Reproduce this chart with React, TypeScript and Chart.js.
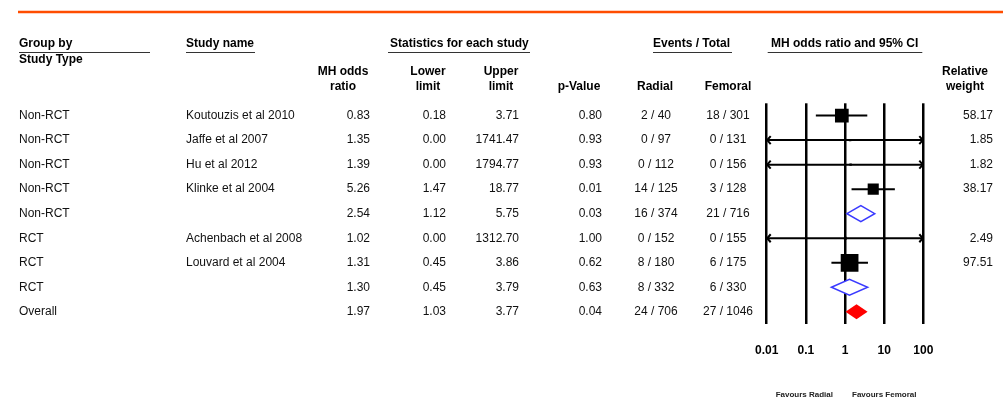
import { useEffect, useRef } from "react";
import { Chart, registerables } from "chart.js";

Chart.register(...registerables);

// ---------------- data ----------------
const groups = ["Non-RCT", "Non-RCT", "Non-RCT", "Non-RCT", "Non-RCT", "RCT", "RCT", "RCT", "Overall"];
const studies = ["Koutouzis et al 2010", "Jaffe et al 2007", "Hu et al 2012", "Klinke et al 2004", "", "Achenbach et al 2008", "Louvard et al 2004", "", ""];
const rowKind = ["study", "study", "study", "study", "subtotal", "study", "study", "subtotal", "overall"];
const oddsRatio = [0.83, 1.35, 1.39, 5.26, 2.54, 1.02, 1.31, 1.3, 1.97];
const lowerLimit = [0.18, 0.0, 0.0, 1.47, 1.12, 0.0, 0.45, 0.45, 1.03];
const upperLimit = [3.71, 1741.47, 1794.77, 18.77, 5.75, 1312.7, 3.86, 3.79, 3.77];
const pValues = [0.8, 0.93, 0.93, 0.01, 0.03, 1.0, 0.62, 0.63, 0.04];
const radialEvents = ["2 / 40", "0 / 97", "0 / 112", "14 / 125", "16 / 374", "0 / 152", "8 / 180", "8 / 332", "24 / 706"];
const femoralEvents = ["18 / 301", "0 / 131", "0 / 156", "3 / 128", "21 / 716", "0 / 155", "6 / 175", "6 / 330", "27 / 1046"];
const relativeWeight: (number | null)[] = [58.17, 1.85, 1.82, 38.17, null, 2.49, 97.51, null, null];
const axisTicks = [0.01, 0.1, 1, 10, 100];
const favoursLeft = "Favours Radial";
const favoursRight = "Favours Femoral";

// ---------------- styling ----------------
const FONT = "'Liberation Sans', Arial, sans-serif";
const TEXT = "#111";

const forestPlugin = {
  id: "forest",
  beforeDatasetsDraw(chart: any) {
    const { ctx, scales } = chart;
    const x = scales.x;
    const y = scales.y;
    ctx.save();
    ctx.strokeStyle = "#000";
    ctx.lineWidth = 2;
    rowKind.forEach((k, i) => {
      if (k !== "study") return;
      const py = y.getPixelForValue(i + 1);
      const lo = Math.max(lowerLimit[i], x.min);
      const hi = Math.min(upperLimit[i], x.max);
      const x1 = x.getPixelForValue(lo);
      const x2 = x.getPixelForValue(hi);
      ctx.beginPath();
      ctx.moveTo(x1, py);
      ctx.lineTo(x2, py);
      ctx.stroke();
      if (lowerLimit[i] < x.min) {
        ctx.beginPath();
        ctx.moveTo(x1 + 4, py - 4);
        ctx.lineTo(x1 + 0.5, py);
        ctx.lineTo(x1 + 4, py + 4);
        ctx.stroke();
      }
      if (upperLimit[i] > x.max) {
        ctx.beginPath();
        ctx.moveTo(x2 - 4, py - 4);
        ctx.lineTo(x2 - 0.5, py);
        ctx.lineTo(x2 - 4, py + 4);
        ctx.stroke();
      }
    });
    ctx.restore();
  },
  afterDatasetsDraw(chart: any) {
    const { ctx, scales } = chart;
    const x = scales.x;
    const y = scales.y;
    ctx.save();
    rowKind.forEach((k, i) => {
      if (k === "study") return;
      const py = y.getPixelForValue(i + 1);
      const xl = x.getPixelForValue(lowerLimit[i]);
      const xc = x.getPixelForValue(oddsRatio[i]);
      const xr = x.getPixelForValue(upperLimit[i]);
      const h = k === "overall" ? 7.5 : 8;
      ctx.beginPath();
      ctx.moveTo(xl, py);
      ctx.lineTo(xc, py - h);
      ctx.lineTo(xr, py);
      ctx.lineTo(xc, py + h);
      ctx.closePath();
      if (k === "overall") {
        ctx.fillStyle = "#ff0000";
        ctx.fill();
      } else {
        ctx.fillStyle = "#ffffff";
        ctx.fill();
        ctx.strokeStyle = "#3a3aff";
        ctx.lineWidth = 1.5;
        ctx.stroke();
      }
    });
    ctx.restore();
  },
  afterDraw(chart: any) {
    const { ctx, scales, chartArea } = chart;
    const x = scales.x;
    const y = scales.y;
    ctx.save();

    // orange top rule
    ctx.strokeStyle = "#ff4d00";
    ctx.lineWidth = 2.5;
    ctx.beginPath();
    ctx.moveTo(18, 12);
    ctx.lineTo(1003, 12);
    ctx.stroke();

    // headers
    ctx.fillStyle = "#000";
    ctx.textBaseline = "middle";
    ctx.font = `bold 12px ${FONT}`;
    ctx.textAlign = "left";
    ctx.fillText("Group by", 19, 44);
    ctx.fillText("Study Type", 19, 60);
    ctx.fillText("Study name", 186, 44);
    ctx.fillText("Statistics for each study", 390, 44);
    ctx.fillText("Events / Total", 653, 44);
    ctx.fillText("MH odds ratio and 95% CI", 771, 44);

    ctx.strokeStyle = "#333";
    ctx.lineWidth = 1;
    const underline = (a: number, b: number) => {
      ctx.beginPath();
      ctx.moveTo(a, 52.5);
      ctx.lineTo(b, 52.5);
      ctx.stroke();
    };
    underline(19, 150);
    underline(186, 255);
    underline(388, 530);
    underline(653, 732);
    underline(chartArea.left + 1, chartArea.right - 1);

    ctx.textAlign = "center";
    const two = (a: string, b: string, cx: number) => {
      ctx.fillText(a, cx, 72);
      ctx.fillText(b, cx, 87);
    };
    two("MH odds", "ratio", 343);
    two("Lower", "limit", 428);
    two("Upper", "limit", 501);
    two("Relative", "weight", 965);
    ctx.fillText("p-Value", 579, 87);
    ctx.fillText("Radial", 655, 87);
    ctx.fillText("Femoral", 728, 87);

    // rows
    ctx.fillStyle = TEXT;
    ctx.font = `12px ${FONT}`;
    groups.forEach((g, i) => {
      const py = y.getPixelForValue(i + 1);
      ctx.textAlign = "left";
      ctx.fillText(g, 19, py);
      ctx.fillText(studies[i], 186, py);
      ctx.textAlign = "right";
      ctx.fillText(oddsRatio[i].toFixed(2), 370, py);
      ctx.fillText(lowerLimit[i].toFixed(2), 446, py);
      ctx.fillText(upperLimit[i].toFixed(2), 519, py);
      ctx.fillText(pValues[i].toFixed(2), 602, py);
      const w = relativeWeight[i];
      if (w !== null) ctx.fillText(w.toFixed(2), 993, py);
      ctx.textAlign = "center";
      ctx.fillText(radialEvents[i], 656, py);
      ctx.fillText(femoralEvents[i], 728, py);
    });

    // favours labels
    const x1 = x.getPixelForValue(1);
    ctx.fillStyle = "#222";
    ctx.font = `bold 8px ${FONT}`;
    ctx.textAlign = "right";
    ctx.fillText(favoursLeft, x1 - 12, 395);
    ctx.textAlign = "left";
    ctx.fillText(favoursRight, x1 + 7, 395);

    ctx.restore();
  },
};

export default function App() {
  const ref = useRef<HTMLCanvasElement | null>(null);

  useEffect(() => {
    if (!ref.current) return;
    const studyIdx = rowKind.map((k, i) => (k === "study" ? i : -1)).filter((i) => i >= 0);
    const chart = new Chart(ref.current, {
      type: "scatter",
      data: {
        datasets: [
          {
            label: "studies",
            data: studyIdx.map((i) => ({ x: oddsRatio[i], y: i + 1 })),
            pointStyle: "rect",
            pointRadius: studyIdx.map((i) => 1.27 * Math.sqrt(relativeWeight[i] as number)),
            pointHoverRadius: studyIdx.map((i) => 1.27 * Math.sqrt(relativeWeight[i] as number)),
            backgroundColor: "#000",
            borderColor: "#000",
            borderWidth: 0,
          },
        ],
      },
      options: {
        responsive: false,
        animation: false,
        events: [],
        layout: { padding: { left: 766.7, right: 79.7, top: 103.3, bottom: 23.5 } },
        plugins: { legend: { display: false }, tooltip: { enabled: false } },
        scales: {
          x: {
            type: "logarithmic",
            min: 0.01,
            max: 100,
            position: "bottom",
            afterBuildTicks: (s: any) => {
              s.ticks = axisTicks.map((v) => ({ value: v }));
            },
            ticks: {
              autoSkip: false,
              maxRotation: 0,
              padding: 19.5,
              color: "#000",
              font: { family: FONT, size: 12, weight: "bold" },
              callback: (v: any) => String(Number(v)),
            },
            grid: { color: "#000", lineWidth: 2.5, drawTicks: false },
            border: { display: false },
          },
          y: {
            type: "linear",
            min: 0.5,
            max: 9.5,
            reverse: true,
            display: false,
          },
        },
      },
      plugins: [forestPlugin],
    });
    return () => chart.destroy();
  }, []);

  return (
    <div style={{ position: "absolute", left: 0, top: 0, width: 1003, height: 401, background: "#fff" }}>
      <canvas ref={ref} width={1003} height={401} style={{ width: 1003, height: 401, display: "block" }} />
    </div>
  );
}
